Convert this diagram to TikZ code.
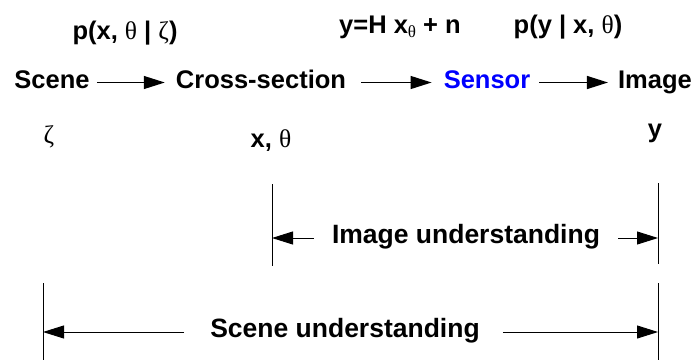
\documentclass[tikz,border=0pt]{standalone}
\usepackage{fontspec}
\setmainfont{Liberation Sans}
\newfontfamily\grkfont{Liberation Serif}
\usetikzlibrary{arrows.meta}
\newcommand\grkl[1]{{\grkfont\mdseries #1}}
\newcommand\subth{\raisebox{-0.35ex}{\fontsize{17}{20}\selectfont\grkfont\mdseries θ}}
\begin{document}
\begin{tikzpicture}[x=1pt,y=-1pt,
  lbl/.style={font=\fontsize{25.5}{30}\selectfont\bfseries, inner sep=0pt, anchor=base},
  rowlbl/.style={lbl, text height=16pt, text depth=5pt},
  dimlbl/.style={font=\fontsize{26.5}{30}\selectfont\bfseries, inner sep=0pt, text height=16pt, text depth=6pt},
  flow/.style={-{Triangle[length=21pt,width=13pt]}, line width=1.3pt},
  tick/.style={line width=1pt}]
\useasboundingbox (0,0) rectangle (697,360);
% main row
\node[rowlbl] (scene) at (52,88) {Scene};
\node[rowlbl] (cross) at (261,88) {Cross-section};
\node[rowlbl, text=blue] (sensor) at (487,88) {Sensor};
\node[rowlbl] (image) at (655,88) {Image};
\draw[flow, shorten <=7pt, shorten >=11pt] (scene) -- (cross);
\draw[flow, shorten <=15pt, shorten >=12pt] (cross) -- (sensor);
\draw[flow, shorten <=9pt, shorten >=10pt] (sensor) -- (image);
% top labels
\node[lbl] (pxt) at (125,39) {p(x, \grkl{θ} | \grkl{ζ})};
\node[lbl] (yeq) at (400,33) {y=H x\subth{} + n};
\node[lbl] (pyx) at (568,33) {p(y | x, \grkl{θ})};
% bottom labels
\node[lbl] (zeta) at (49,143) {\grkl{ζ}};
\node[lbl] (xth) at (271,147) {x, \grkl{θ}};
\node[lbl] (yv) at (655,137) {y};
% image understanding
\coordinate (iuLt) at (272,184); \coordinate (iuLb) at (272,266);
\coordinate (iuRt) at (658,183); \coordinate (iuRb) at (658,264);
\coordinate (iuL) at (272,238); \coordinate (iuR) at (658,238);
\draw[tick] (iuLt) -- (iuLb);
\draw[tick] (iuRt) -- (iuRb);
\node[dimlbl] (iu) at (466,238) {Image understanding};
\draw[flow, line width=1pt, shorten <=18pt] (iu) -- (iuL);
\draw[flow, line width=1pt, shorten <=18pt] (iu) -- (iuR);
% scene understanding
\coordinate (suLt) at (43,283); \coordinate (suLb) at (43,360);
\coordinate (suRt) at (658,283); \coordinate (suRb) at (658,360);
\coordinate (suL) at (43,332); \coordinate (suR) at (658,332);
\draw[tick] (suLt) -- (suLb);
\draw[tick] (suRt) -- (suRb);
\node[dimlbl] (su) at (345,332) {Scene understanding};
\draw[flow, line width=1pt, shorten <=26pt] (su) -- (suL);
\draw[flow, line width=1pt, shorten <=23pt] (su) -- (suR);
\end{tikzpicture}
\end{document}
